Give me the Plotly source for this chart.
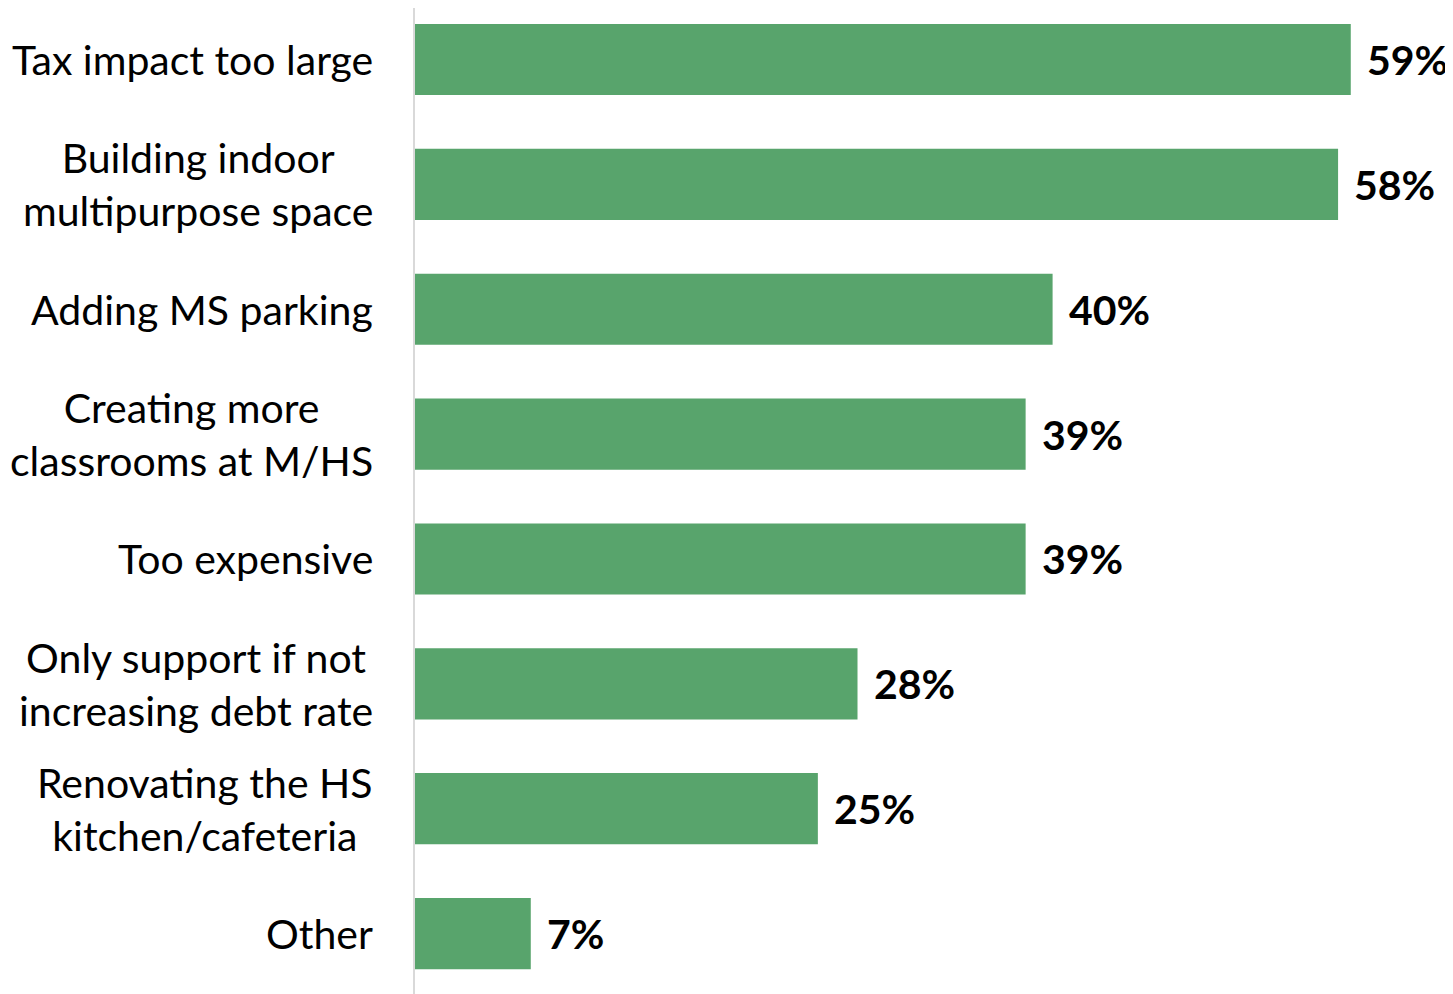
import plotly.graph_objects as go

categories = [
    "Tax impact too large",
    "Building indoor<br>multipurpose space",
    "Adding MS parking",
    "Creating more<br>classrooms at M/HS",
    "Too expensive",
    "Only support if not<br>increasing debt rate",
    "Renovating the HS<br>kitchen/cafeteria",
    "Other",
]
values = [59.0, 58.2, 40.2, 38.5, 38.5, 27.9, 25.4, 7.3]
value_labels = ["59%", "58%", "40%", "39%", "39%", "28%", "25%", "7%"]

BAR_COLOR = "#58A46C"
FONT = "Lato"

fig = go.Figure()
fig.add_trace(go.Bar(
    y=categories,
    x=values,
    orientation="h",
    marker=dict(color=BAR_COLOR, line=dict(width=0)),
    hoverinfo="skip",
))

# value labels
for c, v, t in zip(categories, values, value_labels):
    fig.add_annotation(
        x=v, y=c, text=f"<b>{t}</b>", showarrow=False,
        xanchor="left", yanchor="middle", xshift=14,
        font=dict(family=FONT, size=41, color="#000000"),
    )

# category labels (centre-aligned lines, block right-aligned to axis)
for c in categories:
    fig.add_annotation(
        x=0, xref="paper", y=c, yref="y", text=c, showarrow=False,
        xanchor="right", yanchor="middle", xshift=-40, align="center",
        font=dict(family=FONT, size=41, color="#000000"),
    )

fig.update_layout(
    width=1453, height=994,
    margin=dict(l=407, r=0, t=0, b=0),
    paper_bgcolor="white", plot_bgcolor="white",
    bargap=0.43,
    showlegend=False,
    font=dict(family=FONT, size=41, color="#000000"),
    xaxis=dict(range=[0, 65.95], visible=False, showgrid=False, zeroline=False),
    yaxis=dict(
        type="category",
        categoryorder="array", categoryarray=categories,
        range=[7.548, -0.4125],
        showline=True, linecolor="#D9D9D9", linewidth=2,
        showgrid=False, zeroline=False, ticks="",
        showticklabels=False,
    ),
)

fig.write_html("out.html")
